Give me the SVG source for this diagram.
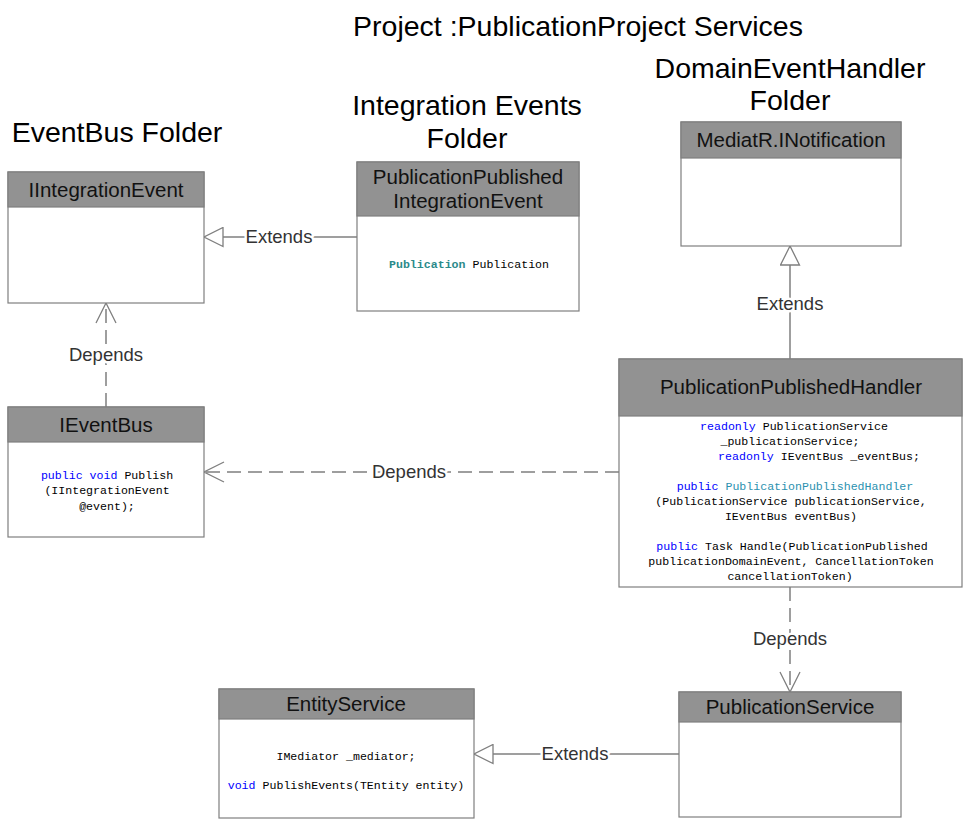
<svg xmlns="http://www.w3.org/2000/svg" width="965" height="822" viewBox="0 0 965 822">
<style>
.bg{fill:#ffffff}
.box{fill:#ffffff;stroke:#7f7f7f;stroke-width:1.2}
.hdr{fill:#929292;stroke:#7f7f7f;stroke-width:1.2}
.folder{font-family:"Liberation Sans",Arial,sans-serif;font-size:28.5px;fill:#000;text-anchor:middle}
.title{font-family:"Liberation Sans",Arial,sans-serif;font-size:28.5px;fill:#000;text-anchor:middle}
.name{font-family:"Liberation Sans",Arial,sans-serif;font-size:20.5px;fill:#111;text-anchor:middle}
.code{font-family:"Liberation Mono","DejaVu Sans Mono",monospace;font-size:11.6px;fill:#000;text-anchor:middle}
.kw{fill:#0000ff}
.ty{fill:#2b91af}
.tyb{fill:#2b8a8a;font-weight:bold}
.solid{fill:none;stroke:#7f7f7f;stroke-width:1.5}
.dash{fill:none;stroke:#7f7f7f;stroke-width:1.5;stroke-dasharray:14 7}
.lbl{font-family:"Liberation Sans",Arial,sans-serif;font-size:18.5px;fill:#333;text-anchor:middle;stroke:#fff;stroke-width:5;paint-order:stroke;stroke-linejoin:round}
</style>
<defs>
<marker id="tri" markerUnits="userSpaceOnUse" viewBox="0 0 21 21" markerWidth="21" markerHeight="21" refX="20" refY="10.5" orient="auto">
<path d="M1,1 L20,10.5 L1,20 z" fill="#fff" stroke="#7f7f7f" stroke-width="1.3"/>
</marker>
<marker id="open" markerUnits="userSpaceOnUse" viewBox="0 0 22 22" markerWidth="22" markerHeight="22" refX="21" refY="11" orient="auto">
<path d="M1,1 L21,11 L1,21" fill="none" stroke="#7f7f7f" stroke-width="1.3"/>
</marker>
</defs>
<rect class="bg" x="0" y="0" width="965" height="822"/>

<g id="titles">
<text class="title" x="578" y="36">Project :PublicationProject Services</text>
<text class="folder" x="790" y="78">DomainEventHandler</text>
<text class="folder" x="790" y="110">Folder</text>
<text class="folder" x="467" y="115">Integration Events</text>
<text class="folder" x="467" y="148">Folder</text>
<text class="folder" x="117" y="142">EventBus Folder</text>
</g>

<g id="connectors">
<line class="solid" x1="357" y1="237" x2="204" y2="237" marker-end="url(#tri)"/>
<line class="dash" x1="106" y1="407" x2="106" y2="303" marker-end="url(#open)"/>
<line class="dash" x1="619" y1="472" x2="204" y2="472" marker-end="url(#open)"/>
<line class="solid" x1="790" y1="359" x2="790" y2="246" marker-end="url(#tri)"/>
<line class="dash" x1="790" y1="587" x2="790" y2="692" marker-end="url(#open)"/>
<line class="solid" x1="679" y1="754" x2="474" y2="754" marker-end="url(#tri)"/>
<text class="lbl" x="279" y="243">Extends</text>
<text class="lbl" x="106" y="361">Depends</text>
<text class="lbl" x="409" y="478">Depends</text>
<text class="lbl" x="790" y="310">Extends</text>
<text class="lbl" x="790" y="645">Depends</text>
<text class="lbl" x="575" y="760">Extends</text>
</g>

<g id="IIntegrationEvent">
<rect class="box" x="8" y="172" width="196" height="131"/>
<rect class="hdr" x="8" y="172" width="196" height="35"/>
<text class="name" x="106" y="197">IIntegrationEvent</text>
</g>

<g id="PublicationPublishedIntegrationEvent">
<rect class="box" x="357" y="162" width="222" height="149"/>
<rect class="hdr" x="357" y="162" width="222" height="54"/>
<text class="name" x="468" y="184">PublicationPublished</text>
<text class="name" x="468" y="208">IntegrationEvent</text>
<text class="code" x="469" y="268"><tspan class="tyb">Publication</tspan> Publication</text>
</g>

<g id="MediatR.INotification">
<rect class="box" x="681" y="122" width="220" height="124"/>
<rect class="hdr" x="681" y="122" width="220" height="36"/>
<text class="name" x="791" y="147">MediatR.INotification</text>
</g>

<g id="IEventBus">
<rect class="box" x="8" y="407" width="196" height="130"/>
<rect class="hdr" x="8" y="407" width="196" height="35"/>
<text class="name" x="106" y="432">IEventBus</text>
<text class="code" x="107" y="479"><tspan class="kw">public</tspan> <tspan class="kw">void</tspan> Publish</text>
<text class="code" x="107" y="494">(IIntegrationEvent</text>
<text class="code" x="107" y="510">@event);</text>
</g>

<g id="PublicationPublishedHandler">
<rect class="box" x="619" y="359" width="343" height="228"/>
<rect class="hdr" x="619" y="359" width="343" height="57"/>
<text class="name" x="791" y="394">PublicationPublishedHandler</text>
<text class="code" x="794" y="430"><tspan class="kw">readonly</tspan> PublicationService</text>
<text class="code" x="790" y="445">_publicationService;</text>
<text class="code" x="819" y="460"><tspan class="kw">readonly</tspan> IEventBus _eventBus;</text>
<text class="code" x="795" y="490"><tspan class="kw">public</tspan> <tspan class="ty">PublicationPublishedHandler</tspan></text>
<text class="code" x="791" y="505">(PublicationService publicationService,</text>
<text class="code" x="791" y="520">IEventBus eventBus)</text>
<text class="code" x="792" y="550"><tspan class="kw">public</tspan> Task Handle(PublicationPublished</text>
<text class="code" x="791" y="565">publicationDomainEvent, CancellationToken</text>
<text class="code" x="790" y="580">cancellationToken)</text>
</g>

<g id="EntityService">
<rect class="box" x="219" y="689" width="255" height="129"/>
<rect class="hdr" x="219" y="689" width="255" height="30"/>
<text class="name" x="346" y="711">EntityService</text>
<text class="code" x="346" y="760">IMediator _mediator;</text>
<text class="code" x="346" y="789"><tspan class="kw">void</tspan> PublishEvents(TEntity entity)</text>
</g>

<g id="PublicationService">
<rect class="box" x="679" y="692" width="222" height="125"/>
<rect class="hdr" x="679" y="692" width="222" height="30"/>
<text class="name" x="790" y="714">PublicationService</text>
</g>
</svg>
